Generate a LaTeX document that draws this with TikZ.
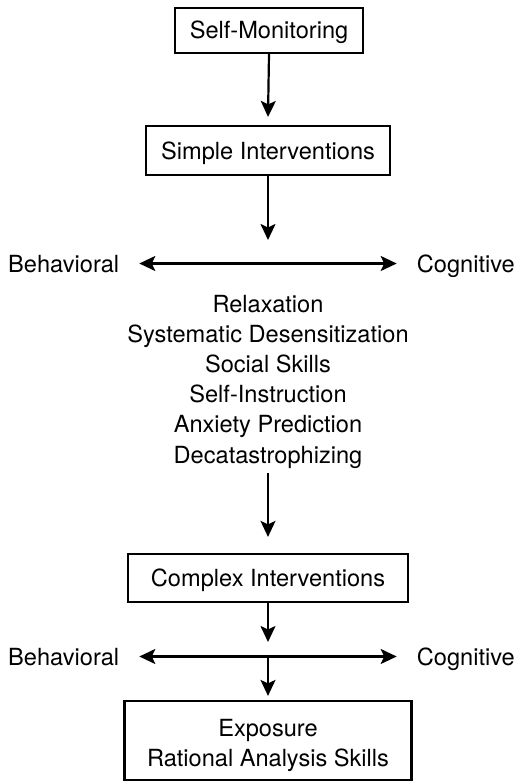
\documentclass[tikz,border=0pt]{standalone}
\usepackage{fontspec}
\setmainfont{TeX Gyre Heros}
\usetikzlibrary{arrows.meta}
\begin{document}
\begin{tikzpicture}[x=1pt,y=-1pt,
  txt/.style={font=\fontsize{23.6}{30}\selectfont, inner sep=0pt, text height=17pt, text depth=0pt},
  box/.style={txt, draw, line width=2.2pt, anchor=center},
  arr/.style={line width=2.2pt, -{Stealth[length=16pt,width=15pt,inset=3.5pt]}},
  darr/.style={line width=2.2pt, {Stealth[length=16pt,width=15pt,inset=3.5pt]}-{Stealth[length=16pt,width=15pt,inset=3.5pt]}, shorten <=20pt, shorten >=20pt}
]
\useasboundingbox (0,0) rectangle (520,781);
\fill[white] (0,0) rectangle (520,781);

% boxes
\node[box, minimum width=188pt, minimum height=45pt] (sm) at (269,30.5) {Self-Monitoring};
\node[box, minimum width=244pt, minimum height=49pt] (si) at (268,150.5) {Simple Interventions};
\node[box, minimum width=280pt, minimum height=48pt] (ci) at (268,578) {Complex Interventions};
\node[draw, line width=2.2pt, inner sep=0pt, minimum width=287pt, minimum height=79pt] (ex) at (268,740.5) {};
\node[txt, anchor=base] (ex1) at (268,736) {Exposure};
\node[txt, anchor=base] (ex2) at (268,766) {Rational Analysis Skills};

% first behavioral / cognitive axis
\node[txt, anchor=base west] (b1) at (8,272) {Behavioral};
\node[txt, anchor=base east] (c1) at (515,272) {Cognitive};

% list of simple interventions
\node[txt, anchor=base] (l1) at (268,312) {Relaxation};
\node[txt, anchor=base] (l2) at (268,342.2) {Systematic Desensitization};
\node[txt, anchor=base] (l3) at (268,372.4) {Social Skills};
\node[txt, anchor=base] (l4) at (268,402.6) {Self-Instruction};
\node[txt, anchor=base] (l5) at (268,432.8) {Anxiety Prediction};
\node[txt, anchor=base] (l6) at (268,463) {Decatastrophizing};

% second behavioral / cognitive axis
\node[txt, anchor=base west] (b2) at (8,665) {Behavioral};
\node[txt, anchor=base east] (c2) at (515,665) {Cognitive};

% free ends of connectors
\coordinate (a1) at (268,240);
\coordinate (a3) at (268,642);
\coordinate (h2c) at (268,656);

% connectors
\draw[arr] (sm.south) -- ([yshift=8pt]si.north);
\draw[arr] (si.south) -- (a1);
\draw[darr] (b1.east) -- (c1.west);
\draw[arr] ([yshift=-10pt]l6.base) -- ([yshift=16pt]ci.north);
\draw[arr] (ci.south) -- (a3);
\draw[darr] (b2.east) -- (c2.west);
\draw[arr] (h2c) -- ([yshift=4pt]ex.north);
\end{tikzpicture}
\end{document}
